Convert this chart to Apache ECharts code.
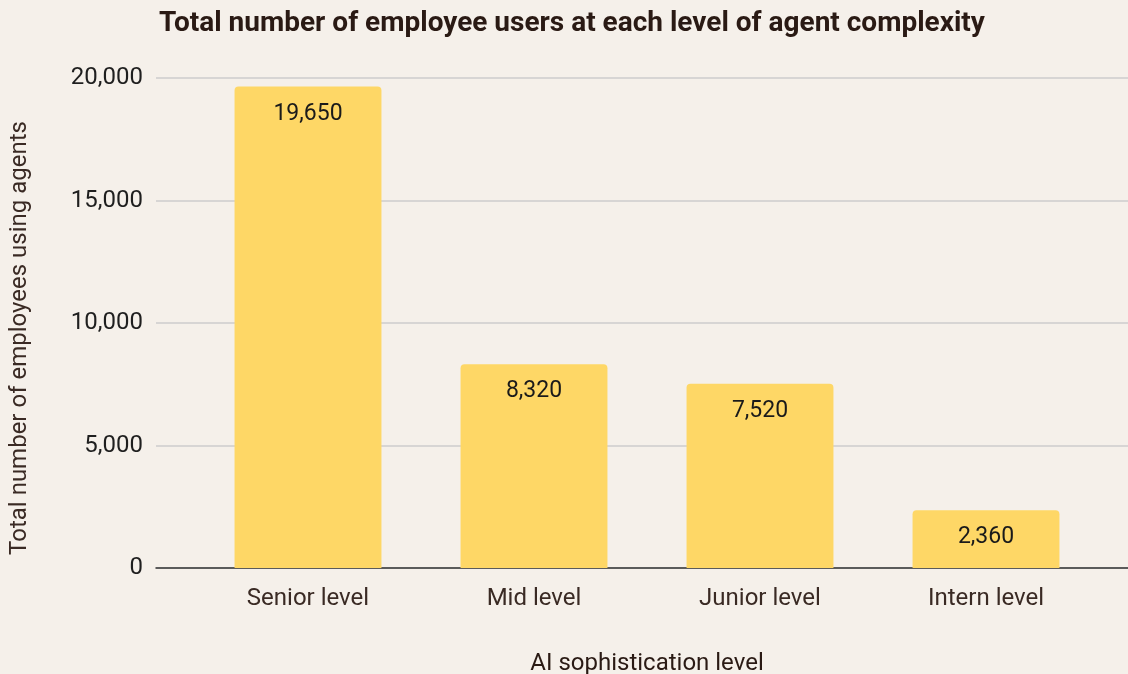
<!DOCTYPE html>
<html>
<head>
<meta charset="utf-8">
<script src="https://cdn.jsdelivr.net/npm/echarts@6/dist/echarts.min.js"></script>
<style>
html,body{margin:0;padding:0;background:#f5f0ea;}
#chart{width:1128px;height:674px;}
</style>
</head>
<body>
<div id="chart"></div>
<script>
const categories = ['Senior level', 'Mid level', 'Junior level', 'Intern level'];
const employees = [19650, 8320, 7520, 2360];
const yTicks = [0, 5000, 10000, 15000, 20000];

const chart = echarts.init(document.getElementById('chart'));
const fmt = v => v.toLocaleString('en-US');
const option = {
  backgroundColor: '#f5f0ea',
  textStyle: { fontFamily: 'Roboto' },
  title: {
    text: 'Total number of employee users at each level of agent complexity',
    left: 154, top: 5,
    textStyle: { fontFamily: 'Roboto', fontWeight: 700, fontSize: 28, color: '#2a1a14' }
  },
  grid: [
    { left: 156, right: 0, top: 78, bottom: 106, containLabel: false, outerBoundsMode: 'none' },
    { left: 195, right: 29, top: 78, bottom: 106, containLabel: false, outerBoundsMode: 'none' }
  ],
  xAxis: [
    { gridIndex: 0, type: 'category', data: [''],
      axisLine: { show: true, lineStyle: { color: '#333333', width: 1.5 } },
      axisTick: { show: false }, axisLabel: { show: false } },
    { gridIndex: 1, type: 'category', data: categories,
      axisLine: { show: false }, axisTick: { show: false },
      axisLabel: { color: '#3a2a24', fontSize: 24, margin: 19 },
      name: 'AI sophistication level', nameLocation: 'middle', nameGap: 84,
      nameTextStyle: { color: '#2a1a14', fontSize: 24 } }
  ],
  yAxis: [
    { gridIndex: 0, type: 'value', min: 0, max: 20000, interval: 5000,
      axisLine: { show: false }, axisTick: { show: false },
      axisLabel: { color: '#1f1f1f', fontSize: 24, margin: 13,
        formatter: v => yTicks.includes(v) ? fmt(v) : '' },
      splitLine: { lineStyle: { color: '#cccccc', width: 1.5 } },
      name: 'Total number of employees using agents', nameLocation: 'middle', nameGap: 124,
      nameTextStyle: { color: '#3a2a24', fontSize: 24, padding: [0, 30, 0, 0] } },
    { gridIndex: 1, type: 'value', min: 0, max: 20000, interval: 5000, show: false }
  ],
  series: [{
    type: 'bar', xAxisIndex: 1, yAxisIndex: 1,
    data: employees, barWidth: '65%',
    itemStyle: { color: '#fed766', borderRadius: [4, 4, 0, 0] },
    label: { show: true, position: 'insideTop', distance: 16,
      formatter: p => fmt(p.value), color: '#1a1a1a', fontSize: 23 },
    z: 3
  }]
};
chart.setOption(option);
</script>
</body>
</html>
